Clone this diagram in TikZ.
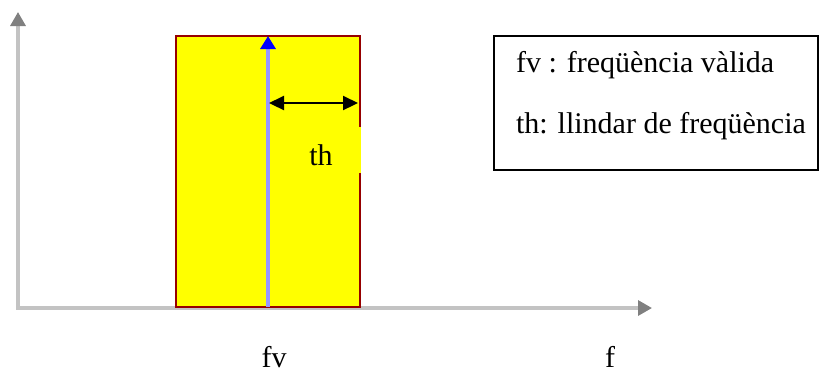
\documentclass[tikz,border=0pt]{standalone}
\usepackage{fontspec}
\setmainfont{Liberation Serif}
\usetikzlibrary{arrows.meta,positioning}
\definecolor{bandyellow}{RGB}{255,255,0}
\definecolor{bandred}{RGB}{150,0,0}
\definecolor{axisgray}{RGB}{195,195,195}
\definecolor{tipgray}{RGB}{128,128,128}
\definecolor{fvline}{RGB}{150,150,255}

\begin{document}
\begin{tikzpicture}[x=0.5pt,y=-0.5pt,
  font=\fontsize{15}{18}\selectfont,
  every node/.style={inner sep=0pt,outer sep=0pt},
  axis/.style={draw=axisgray,line width=1.6pt,
    -{Triangle[length=7pt,width=7.5pt,color=tipgray]}},
  band/.style={fill=bandyellow,draw=bandred,line width=1pt,
    minimum width=92pt,minimum height=135.5pt},
  fvarrow/.style={draw=fvline,line width=1.6pt,
    -{Triangle[length=6.5pt,width=7.5pt,color=blue]}},
  tharrow/.style={draw=black,line width=1.1pt,
    {Triangle[length=7.5pt,width=7pt]}-{Triangle[length=7.5pt,width=7pt]}},
  thbox/.style={fill=bandyellow,text height=19pt,text depth=4pt,
    inner xsep=14pt},
  legbox/.style={draw=black,line width=1pt,fill=white,
    minimum width=162pt,minimum height=67pt},
]
\useasboundingbox (0,0) rectangle (822,372);

% axes
\coordinate (O) at (18,308);
\coordinate (ytop) at (18,12);
\coordinate (xend) at (652,308);
\draw[axis] ([xshift=-1pt]O) -- (xend);
\draw[axis] ([yshift=-0.8pt]O) -- (ytop);

% valid band
\node[band] (band) at (268,171.5) {};
\draw[fvarrow] (band.south) -- (band.north);

% threshold
\path (band.north) ++(0,67) coordinate (thL);
\path (band.north east) ++(0,67) coordinate (thR);
\draw[tharrow,shorten >=1pt,shorten <=0.5pt] (thL) -- (thR);
\node[thbox] (th) at (321,150) {th};

% labels
\node[anchor=base] (fvlbl) at (274,367) {fv};
\node[anchor=base] (flbl) at (610,367) {f};

% legend
\node[legbox] (leg) at (656,103) {};
\node[anchor=base west] (leg1) at (516,72) {fv : freqüència vàlida};
\node[anchor=base west] (leg2) at (516,133) {th: llindar de freqüència};
\end{tikzpicture}
\end{document}
